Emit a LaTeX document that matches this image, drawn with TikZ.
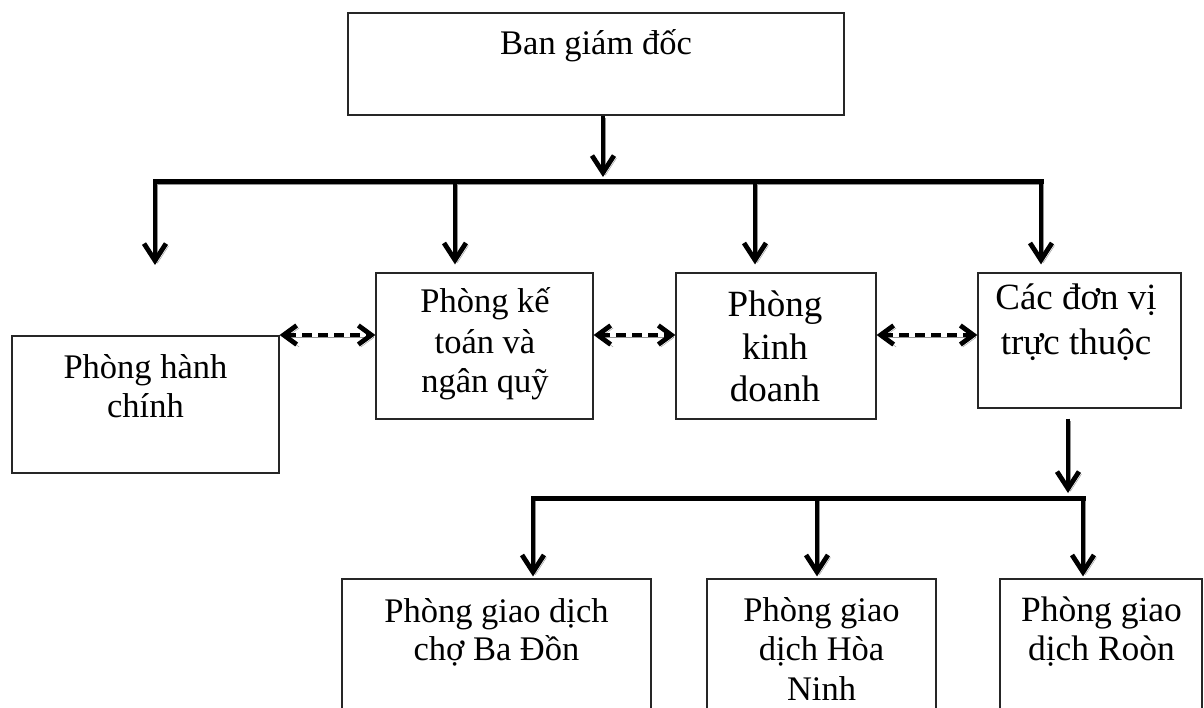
\documentclass[tikz,border=0pt]{standalone}
\usepackage{fontspec}
\setmainfont{Liberation Serif}
\usetikzlibrary{arrows.meta}
\newcommand{\mlns}[2]{\vtop{\baselineskip=#1\lineskiplimit=-\maxdimen\halign{\hfil##\hfil\cr #2\crcr}}}
\begin{document}
\begin{tikzpicture}[x=1pt,y=-1pt,
  box/.style={draw=black!85, line width=1.2pt, inner sep=0pt, rectangle},
  lbl/.style={anchor=base, inner sep=0pt, font=\fontsize{34.5pt}{39pt}\selectfont},
  shadowed/.style={preaction={draw=black!42, transform canvas={xshift=2.5pt,yshift=-2.5pt}}},
  arr/.style={line width=4.8pt, -{Straight Barb[length=17pt,width=22pt]}, shadowed},
  bus/.style={line width=5pt, line cap=rect, shadowed},
  dbl/.style={line width=4.8pt, dash pattern=on 10pt off 6pt, {Straight Barb[length=13pt,width=19pt]}-{Straight Barb[length=13pt,width=19pt]}, shadowed}
]
\useasboundingbox (0,0) rectangle (1204,708);
\fill[white] (0,0) rectangle (1204,708);

% boxes
\node[box, minimum width=496pt, minimum height=102pt] (bgd) at (596,64) {};
\node[box, minimum width=267pt, minimum height=137pt] (hc) at (145.5,404.5) {};
\node[box, minimum width=217pt, minimum height=146pt] (kt) at (484.5,346) {};
\node[box, minimum width=200pt, minimum height=146pt] (kd) at (776,346) {};
\node[box, minimum width=203pt, minimum height=135pt] (dv) at (1079.5,340.5) {};
\node[box, minimum width=309pt, minimum height=141pt] (g1) at (496.5,649.5) {};
\node[box, minimum width=229pt, minimum height=141pt] (g2) at (821.5,649.5) {};
\node[box, minimum width=202pt, minimum height=141pt] (g3) at (1101,649.5) {};

% labels
\node[lbl] (tbgd) at (596,55) {Ban giám đốc};
\node[lbl] (thc) at (145.5,378) {\mlns{39pt}{Phòng hành\cr chính}};
\node[lbl] (tkt) at (485,313) {\mlns{40pt}{Phòng kế\cr toán và\cr ngân quỹ}};
\node[lbl, font=\fontsize{37pt}{43pt}\selectfont] (tkd) at (775,317) {\mlns{42.5pt}{Phòng\cr kinh\cr doanh}};
\node[lbl, font=\fontsize{37pt}{45pt}\selectfont] (tdv) at (1076,310) {\mlns{45pt}{Các đơn vị\cr trực thuộc}};
\node[lbl] (tg1) at (496.5,622) {\mlns{38.5pt}{Phòng giao dịch\cr chợ Ba Đồn}};
\node[lbl] (tg2) at (821.5,621) {\mlns{39.5pt}{Phòng giao\cr dịch Hòa\cr Ninh}};
\node[lbl, font=\fontsize{35.5pt}{39pt}\selectfont] (tg3) at (1101.5,621) {\mlns{39pt}{Phòng giao\cr dịch Roòn}};

% upper connectors
\coordinate (m) at (603,182);
\coordinate (bl) at (155,182);
\coordinate (br) at (1041,182);
\coordinate (d1) at (455,182);
\coordinate (d2) at (755,182);
\coordinate (t1) at (155,265);
\draw[arr, shorten >=5pt] (bgd.south -| m) -- (m);
\draw[bus] (bl) -- (br);
\draw[arr] (bl) -- (t1);
\draw[arr, shorten >=8pt] (d1) -- (kt.north -| d1);
\draw[arr, shorten >=8pt] (d2) -- (kd.north -| d2);
\draw[arr, shorten >=8pt] (br) -- (dv.north -| br);

% dashed links
\coordinate (row) at (0,335);
\draw[dbl] (hc.east |- row) -- (kt.west |- row);
\draw[dbl] (kt.east |- row) -- (kd.west |- row);
\draw[dbl] (kd.east |- row) -- (dv.west |- row);

% lower connectors
\coordinate (m2) at (1068,498);
\coordinate (cl) at (533,498);
\coordinate (cm) at (817,498);
\coordinate (cr) at (1083,498);
\draw[arr, shorten <=10pt, shorten >=5pt] (dv.south -| m2) -- (m2);
\draw[bus] (cl) -- (cr);
\draw[arr, shorten >=2pt] (cl) -- (g1.north -| cl);
\draw[arr, shorten >=2pt] (cm) -- (g2.north -| cm);
\draw[arr, shorten >=2pt] (cr) -- (g3.north -| cr);
\end{tikzpicture}
\end{document}
